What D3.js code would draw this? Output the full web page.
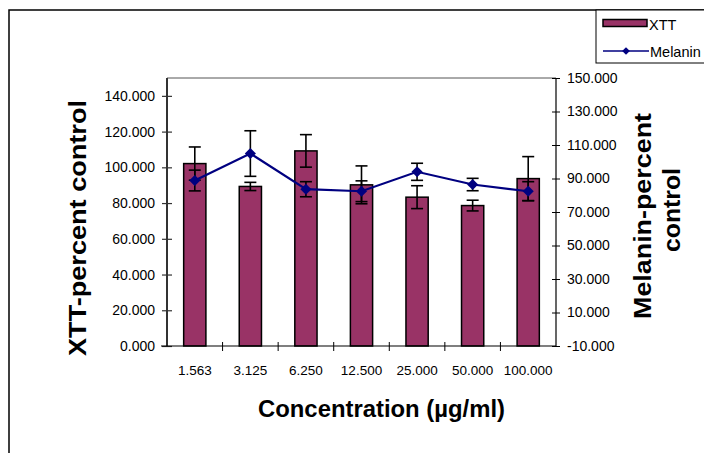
<!DOCTYPE html>
<html><head><meta charset="utf-8">
<script src="https://cdn.jsdelivr.net/npm/d3@7"></script>
<style>body{margin:0;background:#fff}svg{display:block}</style>
</head><body>
<script>
const categories = ["1.563","3.125","6.250","12.500","25.000","50.000","100.000"];
const xttValues = [102.1, 89.3, 109.2, 90.2, 83.3, 78.6, 93.7];
const xttErrors = [9.3, 2.3, 9.1, 10.6, 6.4, 3.0, 12.3];
const melaninValues = [88.8, 104.9, 83.6, 82.4, 94.0, 86.4, 82.4];
const melaninErrors = [6.2, 13.6, 4.5, 6.2, 5.1, 3.7, 5.7];
const leftTicks = [0,20,40,60,80,100,120,140];
const rightTicks = [-10,10,30,50,70,90,110,130,150];

(function(){
const W = 704, H = 453;
const svg = d3.select("body").append("svg").attr("width", W).attr("height", H);
const font = "'Liberation Sans', Arial, sans-serif";
const fmt = d => d3.format(".3f")(d).replace("\u2212","-");

// outer frame
svg.append("rect").attr("x",9).attr("y",10).attr("width",740).attr("height",480)
  .attr("fill","none").attr("stroke","#000").attr("stroke-width",1.5);

const pL = 167, pR = 556, pT = 78, pB = 346;
const x = d3.scaleBand().domain(categories).range([pL, pR]).paddingInner(0).paddingOuter(0);
const yL = d3.scaleLinear().domain([0,150]).range([pB, pT]);
const yR = d3.scaleLinear().domain([-10,150]).range([pB, pT]);
const barW = x.bandwidth() / 2.5;
const cx = i => x(categories[i]) + x.bandwidth()/2;

// top border of plot area
svg.append("line").attr("x1",pL).attr("x2",pR).attr("y1",pT).attr("y2",pT)
  .attr("stroke","#555").attr("stroke-width",1);

// bars
svg.append("g").selectAll("rect").data(xttValues).join("rect")
  .attr("x",(d,i)=>cx(i) - barW/2)
  .attr("y",d=>yL(d)).attr("width",barW).attr("height",d=>pB - yL(d))
  .attr("fill","#993366").attr("stroke","#000").attr("stroke-width",1.5);

function errBars(vals, errs, scale){
  const g = svg.append("g").attr("stroke","#000").attr("stroke-width",1.6);
  vals.forEach((v,i)=>{
    const c = cx(i);
    const y1 = scale(v+errs[i]), y2 = scale(v-errs[i]);
    g.append("line").attr("x1",c).attr("x2",c).attr("y1",y1).attr("y2",y2);
    g.append("line").attr("x1",c-6).attr("x2",c+6).attr("y1",y1).attr("y2",y1);
    g.append("line").attr("x1",c-6).attr("x2",c+6).attr("y1",y2).attr("y2",y2);
  });
}
errBars(xttValues, xttErrors, yL);

// melanin line
const line = d3.line().x((d,i)=>cx(i)).y(d=>yR(d));
svg.append("path").datum(melaninValues).attr("d",line)
  .attr("fill","none").attr("stroke","#000080").attr("stroke-width",2.2);
errBars(melaninValues, melaninErrors, yR);
svg.append("g").selectAll("path").data(melaninValues).join("path")
  .attr("d", d3.symbol().type(d3.symbolSquare).size(62))
  .attr("transform",(d,i)=>`translate(${cx(i)},${yR(d)}) rotate(45)`)
  .attr("fill","#000080");

// left axis
const gL = svg.append("g").attr("transform",`translate(${pL},0)`)
  .call(d3.axisLeft(yL).tickValues(leftTicks).tickFormat(fmt).tickSizeInner(5).tickSizeOuter(0));
gL.select(".domain").attr("stroke","#333").attr("stroke-width",2).attr("d",`M0,${pT}V${pB}`);
gL.selectAll(".tick line").attr("x1",-5).attr("x2",5).attr("stroke","#333").attr("stroke-width",1.2);
gL.selectAll(".tick text").attr("x",-12).attr("font-family",font).attr("font-size",14).attr("fill","#000");

// right axis
const gR = svg.append("g").attr("transform",`translate(${pR},0)`)
  .call(d3.axisRight(yR).tickValues(rightTicks).tickFormat(fmt).tickSizeInner(4).tickSizeOuter(0));
gR.select(".domain").attr("stroke","#000").attr("stroke-width",1.2).attr("d",`M0,${pT}V${pB}`);
gR.selectAll(".tick line").attr("x1",-4).attr("x2",4).attr("stroke","#000");
gR.selectAll(".tick text").attr("x",11).attr("font-family",font).attr("font-size",14).attr("fill","#000");

// x axis
const gX = svg.append("g").attr("transform",`translate(0,${pB})`)
  .call(d3.axisBottom(x).tickSize(0));
gX.select(".domain").attr("stroke","#000").attr("stroke-width",1.2).attr("d",`M${pL-6},0H${pR}`);
gX.selectAll(".tick text").attr("y",19).attr("font-family",font).attr("font-size",13.5).attr("fill","#000");
svg.append("g").selectAll("line").data(categories.slice(1)).join("line")
  .attr("x1",d=>x(d)).attr("x2",d=>x(d)).attr("y1",pB-4).attr("y2",pB+5)
  .attr("stroke","#000").attr("stroke-width",1);

// titles
svg.append("text").attr("transform","translate(86,228) rotate(-90)")
  .attr("text-anchor","middle").attr("font-family",font).attr("font-weight","bold")
  .attr("font-size",23).attr("textLength",256).attr("lengthAdjust","spacingAndGlyphs")
  .text("XTT-percent control");
svg.append("text").attr("transform","translate(651,216) rotate(-90)")
  .attr("text-anchor","middle").attr("font-family",font).attr("font-weight","bold")
  .attr("font-size",23).attr("textLength",206).attr("lengthAdjust","spacingAndGlyphs")
  .text("Melanin-percent");
svg.append("text").attr("transform","translate(680,210) rotate(-90)")
  .attr("text-anchor","middle").attr("font-family",font).attr("font-weight","bold")
  .attr("font-size",23).attr("textLength",84).attr("lengthAdjust","spacingAndGlyphs")
  .text("control");
svg.append("text").attr("x",381.5).attr("y",417)
  .attr("text-anchor","middle").attr("font-family",font).attr("font-weight","bold")
  .attr("font-size",23).attr("textLength",247).attr("lengthAdjust","spacingAndGlyphs")
  .text("Concentration (µg/ml)");

// legend
svg.append("rect").attr("x",596).attr("y",10).attr("width",150).attr("height",53)
  .attr("fill","#fff").attr("stroke","#000").attr("stroke-width",1);
svg.append("rect").attr("x",603).attr("y",19.5).attr("width",44).attr("height",7)
  .attr("fill","#993366").attr("stroke","#000").attr("stroke-width",1.5);
svg.append("text").attr("x",649).attr("y",29.5).attr("font-family",font).attr("font-size",14.5).text("XTT");
svg.append("line").attr("x1",603).attr("x2",649).attr("y1",51).attr("y2",51)
  .attr("stroke","#000080").attr("stroke-width",1.5);
svg.append("path").attr("d", d3.symbol().type(d3.symbolSquare).size(30))
  .attr("transform","translate(626,51) rotate(45)").attr("fill","#000080");
svg.append("text").attr("x",650).attr("y",57).attr("font-family",font).attr("font-size",14.5).text("Melanin");
})();
</script>
</body></html>
